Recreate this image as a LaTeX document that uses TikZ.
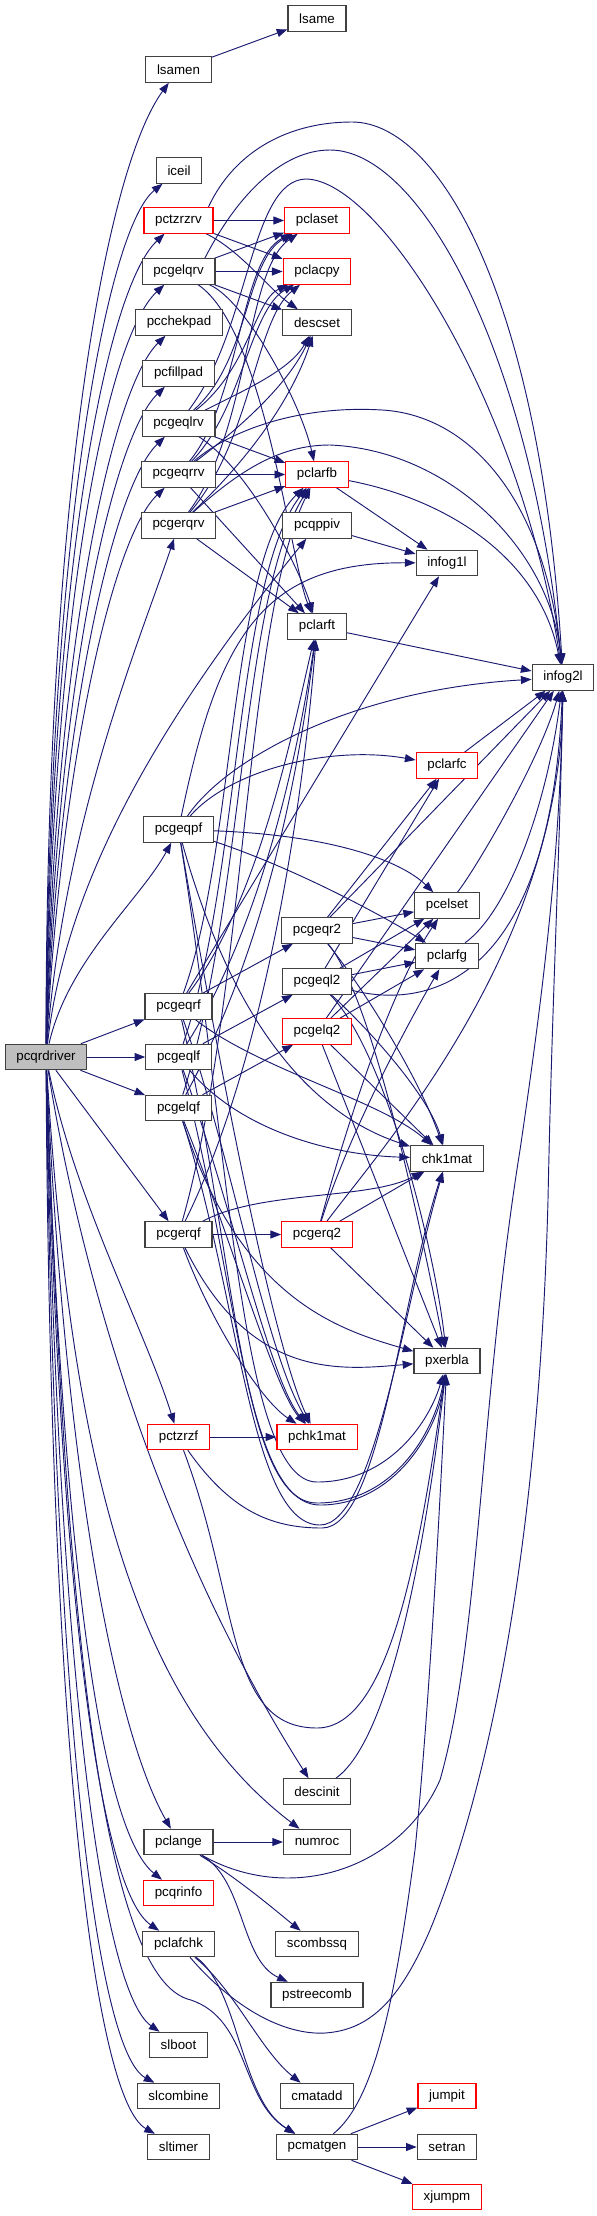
\documentclass[tikz,border=0pt]{standalone}
\usepackage{fontspec}
\setmainfont{Liberation Sans}
\usetikzlibrary{arrows.meta}
\definecolor{edgec}{HTML}{191970}
\definecolor{boxc}{HTML}{404040}
\definecolor{fillg}{HTML}{BFBFBF}
\pgfdeclarelayer{bg}
\pgfsetlayers{bg,main}
\begin{document}
\begin{tikzpicture}[x=0.75pt,y=-0.75pt,
  box/.style={draw=boxc, line width=0.9pt, fill=white, font=\fontsize{10}{12}\selectfont,
    inner xsep=8.4pt, inner ysep=0pt, minimum height=19pt},
  redbox/.style={box, draw=red},
  rootbox/.style={box, fill=fillg},
  e/.style={draw=edgec, line width=0.7pt, -{Triangle[length=8pt,width=6pt]}}]
\useasboundingbox (0,0) rectangle (596,2216);
% nodes
\node[box] (lsame) at (317,18.5) {lsame};
\node[box] (lsamen) at (178.5,69.5) {lsamen};
\node[box] (iceil) at (179,170.5) {iceil};
\node[redbox] (pctzrzrv) at (178.5,220.5) {pctzrzrv};
\node[redbox] (pclaset) at (317,220.5) {pclaset};
\node[box] (pcgelqrv) at (178.5,271.5) {pcgelqrv};
\node[redbox] (pclacpy) at (317,271.5) {pclacpy};
\node[box] (pcchekpad) at (179,322.5) {pcchekpad};
\node[box] (descset) at (317,322.5) {descset};
\node[box] (pcfillpad) at (178.5,373.5) {pcfillpad};
\node[box] (pcgeqlrv) at (178.5,423.5) {pcgeqlrv};
\node[box] (pcgeqrrv) at (178.5,474.5) {pcgeqrrv};
\node[redbox] (pclarfb) at (317,474.5) {pclarfb};
\node[box] (pcgerqrv) at (178.5,525.5) {pcgerqrv};
\node[box] (pcqppiv) at (317,525.5) {pcqppiv};
\node[box] (infog1l) at (447,563) {infog1l};
\node[box] (pclarft) at (317,626.5) {pclarft};
\node[box] (infog2l) at (563,677.5) {infog2l};
\node[redbox] (pclarfc) at (447,765.5) {pclarfc};
\node[box] (pcgeqpf) at (178.5,829.5) {pcgeqpf};
\node[box] (pcelset) at (447,905.5) {pcelset};
\node[box] (pcgeqr2) at (317,930.5) {pcgeqr2};
\node[box] (pclarfg) at (447,956) {pclarfg};
\node[box] (pcgeql2) at (317,981.5) {pcgeql2};
\node[box] (pcgeqrf) at (178.5,1006.5) {pcgeqrf};
\node[redbox] (pcgelq2) at (317,1031.5) {pcgelq2};
\node[rootbox] (pcqrdriver) at (46,1057) {pcqrdriver};
\node[box] (pcgeqlf) at (178.5,1057) {pcgeqlf};
\node[box] (pcgelqf) at (178.5,1108) {pcgelqf};
\node[box] (chk1mat) at (447,1158.5) {chk1mat};
\node[box] (pcgerqf) at (178.5,1234.5) {pcgerqf};
\node[redbox] (pcgerq2) at (317,1234.5) {pcgerq2};
\node[box] (pxerbla) at (447,1361) {pxerbla};
\node[redbox] (pctzrzf) at (178.5,1437) {pctzrzf};
\node[redbox] (pchk1mat) at (317,1437) {pchk1mat};
\node[box] (descinit) at (317,1791.5) {descinit};
\node[box] (pclange) at (178.5,1842) {pclange};
\node[box] (numroc) at (317,1842) {numroc};
\node[redbox] (pcqrinfo) at (178.5,1893) {pcqrinfo};
\node[box] (pclafchk) at (178.5,1944) {pclafchk};
\node[box] (scombssq) at (317,1944) {scombssq};
\node[box] (pstreecomb) at (317,1995) {pstreecomb};
\node[box] (slboot) at (178.5,2045) {slboot};
\node[box] (slcombine) at (178.5,2096) {slcombine};
\node[box] (cmatadd) at (317,2096) {cmatadd};
\node[redbox] (jumpit) at (447,2096) {jumpit};
\node[box] (sltimer) at (178.5,2147) {sltimer};
\node[box] (pcmatgen) at (317,2147) {pcmatgen};
\node[box] (setran) at (447,2147) {setran};
\node[redbox] (xjumpm) at (447,2197) {xjumpm};

\begin{pgfonlayer}{bg}
% pcqrdriver
\draw[e] (pcqrdriver) .. controls (46,500) and (105,170) .. (lsamen);
\draw[e] (pcqrdriver) .. controls (48,550) and (105,230) .. (iceil);
\draw[e] (pcqrdriver) .. controls (50,580) and (105,290) .. (pctzrzrv);
\draw[e] (pcqrdriver) .. controls (52,620) and (105,340) .. (pcgelqrv);
\draw[e] (pcqrdriver) .. controls (54,660) and (110,390) .. (pcchekpad);
\draw[e] (pcqrdriver) .. controls (56,700) and (110,440) .. (pcfillpad);
\draw[e] (pcqrdriver) .. controls (58,740) and (110,490) .. (pcgeqlrv);
\draw[e] (pcqrdriver) .. controls (60,780) and (110,540) .. (pcgeqrrv);
\draw[e] (pcqrdriver) .. controls (64,820) and (140,640) .. (pcgerqrv);
\draw[e] (pcqrdriver) .. controls (66,880) and (160,720) .. (pcqppiv);
\draw[e] (pcqrdriver) .. controls (68,960) and (140,900) .. (pcgeqpf);
\draw[e] (pcqrdriver) -- (pcgeqrf);
\draw[e] (pcqrdriver) -- (pcgeqlf);
\draw[e] (pcqrdriver) -- (pcgelqf);
\draw[e] (pcqrdriver) -- (pcgerqf);
\draw[e] (pcqrdriver) .. controls (75,1200) and (145,1330) .. (pctzrzf);
\draw[e] (pcqrdriver) .. controls (85,1300) and (170,1560) .. (descinit);
\draw[e] (pcqrdriver) .. controls (70,1450) and (130,1700) .. (numroc);
\draw[e] (pcqrdriver) .. controls (66,1500) and (120,1740) .. (pclange);
\draw[e] (pcqrdriver) .. controls (62,1550) and (100,1830) .. (pcqrinfo);
\draw[e] (pcqrdriver) .. controls (60,1600) and (100,1890) .. (pclafchk);
\draw[e] (pcqrdriver) .. controls (57,1650) and (100,1990) .. (slboot);
\draw[e] (pcqrdriver) .. controls (54,1700) and (95,2050) .. (slcombine);
\draw[e] (pcqrdriver) .. controls (50,1750) and (95,2100) .. (sltimer);
\draw[e] (pcqrdriver) .. controls (64,1600) and (100,1980) .. (191,2000) .. controls (250,2020) and (240,2100) .. (pcmatgen);
\draw[e] (lsamen) -- (lsame);
% pctzrzrv
\draw[e] (pctzrzrv) -- (pclaset);
\draw[e] (pctzrzrv) -- (pclacpy);
\draw[e] (pctzrzrv) .. controls (240,250) and (270,290) .. (descset);
\draw[e] ([xshift=-4pt]pctzrzrv.north east) .. controls (235,150) and (290,122) .. (352,122) .. controls (440,122) and (540,300) .. (infog2l);
% pcgelqrv
\draw[e] (pcgelqrv) -- (pclacpy);
\draw[e] (pcgelqrv) -- (pclaset);
\draw[e] (pcgelqrv) -- (descset);
\draw[e] (pcgelqrv) .. controls (245,300) and (300,400) .. (pclarfb);
\draw[e] (pcgelqrv) .. controls (265,330) and (290,560) .. (pclarft);
\draw[e] ([xshift=-8pt]pcgelqrv.north east) .. controls (240,190) and (285,150) .. (330,150) .. controls (420,150) and (530,350) .. (infog2l);
% pcgeqlrv
\draw[e] (pcgeqlrv) -- (pclarfb);
\draw[e] (pcgeqlrv) .. controls (250,470) and (300,570) .. (pclarft);
\draw[e] (pcgeqlrv) .. controls (250,360) and (245,260) .. (pclaset);
\draw[e] (pcgeqlrv) .. controls (248,370) and (255,300) .. (pclacpy);
\draw[e] (pcgeqlrv) .. controls (245,390) and (290,370) .. (descset);
\draw[e] (pcgeqlrv) .. controls (250,330) and (250,180) .. (306,179) .. controls (380,180) and (520,400) .. (infog2l);
% pcgeqrrv
\draw[e] (pcgeqrrv) -- (pclarfb);
\draw[e] (pcgeqrrv) -- (pclarft);
\draw[e] (pcgeqrrv) .. controls (240,400) and (240,260) .. (pclaset);
\draw[e] (pcgeqrrv) .. controls (242,410) and (250,310) .. (pclacpy);
\draw[e] (pcgeqrrv) .. controls (250,420) and (290,380) .. (descset);
\draw[e] (pcgeqrrv) .. controls (230,430) and (300,405) .. (382,410) .. controls (470,415) and (545,500) .. (infog2l);
% pcgerqrv
\draw[e] (pcgerqrv) -- (pclarfb);
\draw[e] (pcgerqrv) -- (pclarft);
\draw[e] (pcgerqrv) .. controls (250,430) and (245,270) .. (pclaset);
\draw[e] (pcgerqrv) .. controls (252,440) and (255,320) .. (pclacpy);
\draw[e] (pcgerqrv) .. controls (258,450) and (295,390) .. (descset);
\draw[e] (pcgerqrv) .. controls (240,470) and (280,445) .. (330,445) .. controls (450,450) and (550,550) .. (infog2l);
% leaves to infog
\draw[e] (pclarfb) -- (infog1l);
\draw[e] (pclarfb) .. controls (450,500) and (540,560) .. (infog2l);
\draw[e] (pcqppiv) -- (infog1l);
\draw[e] (pclarft) -- (infog2l);
\draw[e] (pclarfc) -- (infog2l);
\draw[e] (pcelset) .. controls (475,870) and (540,760) .. (infog2l);
\draw[e] (pclarfg) .. controls (510,910) and (548,800) .. (infog2l);
% pcgeqpf
\draw[e] (pcgeqpf) .. controls (230,770) and (330,745) .. (pclarfc);
\draw[e] (pcgeqpf) .. controls (225,760) and (350,690) .. (infog2l);
\draw[e] (pcgeqpf) .. controls (218,640) and (260,562) .. (infog1l);
\draw[e] (pcgeqpf) .. controls (330,835) and (400,860) .. (pcelset);
\draw[e] (pcgeqpf) .. controls (300,870) and (390,920) .. (pclarfg);
\draw[e] (pcgeqpf) .. controls (240,1050) and (330,1120) .. (chk1mat);
\draw[e] (pcgeqpf) .. controls (225,1100) and (275,1350) .. (pchk1mat);
\draw[e] (pcgeqpf) .. controls (230,1150) and (240,1482) .. (317,1482) .. controls (390,1482) and (430,1420) .. (pxerbla);
% pcgeqrf
\draw[e] (pcgeqrf) -- (pcgeqr2);
\draw[e] (pcgeqrf) -- (infog1l);
\draw[e] (pcgeqrf) .. controls (235,850) and (230,560) .. (pclarfb);
\draw[e] (pcgeqrf) .. controls (260,900) and (295,720) .. (pclarft);
\draw[e] (pcgeqrf) .. controls (260,1070) and (380,1100) .. (chk1mat);
\draw[e] (pcgeqrf) .. controls (230,1150) and (265,1350) .. (pchk1mat);
\draw[e] (pcgeqrf) .. controls (235,1250) and (240,1503) .. (317,1503) .. controls (395,1503) and (435,1430) .. (pxerbla);
% pcgeqlf
\draw[e] (pcgeqlf) -- (pcgeql2);
\draw[e] (pcgeqlf) .. controls (240,880) and (235,580) .. (pclarfb);
\draw[e] (pcgeqlf) .. controls (265,920) and (300,740) .. (pclarft);
\draw[e] (pcgeqlf) .. controls (240,1130) and (330,1155) .. (chk1mat);
\draw[e] (pcgeqlf) .. controls (230,1200) and (270,1380) .. (pchk1mat);
\draw[e] (pcgeqlf) .. controls (238,1280) and (245,1505) .. (320,1505) .. controls (395,1505) and (438,1430) .. (pxerbla);
% pcgelqf
\draw[e] (pcgelqf) -- (pcgelq2);
\draw[e] (pcgelqf) .. controls (245,900) and (240,600) .. (pclarfb);
\draw[e] (pcgelqf) .. controls (270,940) and (300,760) .. (pclarft);
\draw[e] (pcgelqf) .. controls (240,1300) and (250,1525) .. (320,1525) .. controls (375,1525) and (405,1300) .. (chk1mat);
\draw[e] (pcgelqf) .. controls (228,1230) and (275,1390) .. (pchk1mat);
\draw[e] (pcgelqf) .. controls (240,1300) and (340,1330) .. (pxerbla);
% pcgerqf
\draw[e] (pcgerqf) -- (pcgerq2);
\draw[e] (pcgerqf) .. controls (245,1000) and (245,620) .. (pclarfb);
\draw[e] (pcgerqf) .. controls (270,1050) and (305,780) .. (pclarft);
\draw[e] (pcgerqf) .. controls (260,1190) and (370,1200) .. (chk1mat);
\draw[e] (pcgerqf) .. controls (210,1320) and (260,1400) .. (pchk1mat);
\draw[e] (pcgerqf) .. controls (250,1380) and (340,1370) .. (pxerbla);
% pctzrzf
\draw[e] (pctzrzf) -- (pchk1mat);
\draw[e] (pctzrzf) .. controls (230,1510) and (270,1528) .. (322,1528) .. controls (380,1528) and (400,1300) .. (chk1mat);
\draw[e] (pctzrzf) .. controls (240,1600) and (225,1728) .. (317,1728) .. controls (390,1728) and (420,1550) .. (pxerbla);
% *2 routines
\draw[e] (pcgeqr2) -- (pcelset);
\draw[e] (pcgeqr2) -- (pclarfg);
\draw[e] (pcgeqr2) -- (pclarfc);
\draw[e] (pcgeqr2) -- (infog2l);
\draw[e] (pcgeqr2) .. controls (365,990) and (420,1080) .. (chk1mat);
\draw[e] (pcgeqr2) .. controls (375,1000) and (425,1250) .. (pxerbla);
\draw[e] (pcgeql2) -- (pcelset);
\draw[e] (pcgeql2) -- (pclarfg);
\draw[e] (pcgeql2) -- (pclarfc);
\draw[e] (pcgeql2) .. controls (430,1010) and (550,980) .. (infog2l);
\draw[e] (pcgeql2) .. controls (380,1040) and (430,1100) .. (chk1mat);
\draw[e] (pcgeql2) .. controls (385,1050) and (435,1250) .. (pxerbla);
\draw[e] (pcgelq2) -- (pcelset);
\draw[e] (pcgelq2) -- (pclarfg);
\draw[e] (pcgelq2) -- (infog2l);
\draw[e] (pcgelq2) -- (chk1mat);
\draw[e] (pcgelq2) -- (pxerbla);
\draw[e] (pcgerq2) -- (chk1mat);
\draw[e] (pcgerq2) -- (pxerbla);
\draw[e] (pcgerq2) .. controls (345,1130) and (390,990) .. (pcelset);
\draw[e] (pcgerq2) .. controls (350,1130) and (410,1020) .. (pclarfg);
\draw[e] (pcgerq2) .. controls (380,1150) and (560,950) .. (infog2l);
% lower part
\draw[e] (descinit) .. controls (390,1740) and (425,1550) .. (pxerbla);
\draw[e] (pclange) -- (numroc);
\draw[e] (pclange) .. controls (240,1880) and (275,1910) .. (scombssq);
\draw[e] (pclange) .. controls (245,1880) and (240,1960) .. (pstreecomb);
\draw[e] (pclange) .. controls (290,1905) and (400,1870) .. (440,1780) .. controls (480,1640) and (480,1400) .. (520,1150) .. controls (545,980) and (560,850) .. (infog2l);
\draw[e] (pclafchk) .. controls (235,1990) and (260,2050) .. (cmatadd);
\draw[e] (pclafchk) .. controls (240,1990) and (240,2100) .. (pcmatgen);
\draw[e] (pclafchk) .. controls (240,2015) and (290,2035) .. (325,2033) .. controls (370,2030) and (400,2000) .. (430,1930) .. controls (500,1760) and (540,1500) .. (548,1200) .. controls (552,1000) and (560,850) .. (infog2l);
\draw[e] (pcmatgen) .. controls (375,2100) and (395,2000) .. (415,1850) .. controls (430,1700) and (440,1500) .. (pxerbla);
\draw[e] (pcmatgen) -- (jumpit);
\draw[e] (pcmatgen) -- (setran);
\draw[e] (pcmatgen) -- (xjumpm);
\end{pgfonlayer}
\end{tikzpicture}
\end{document}
